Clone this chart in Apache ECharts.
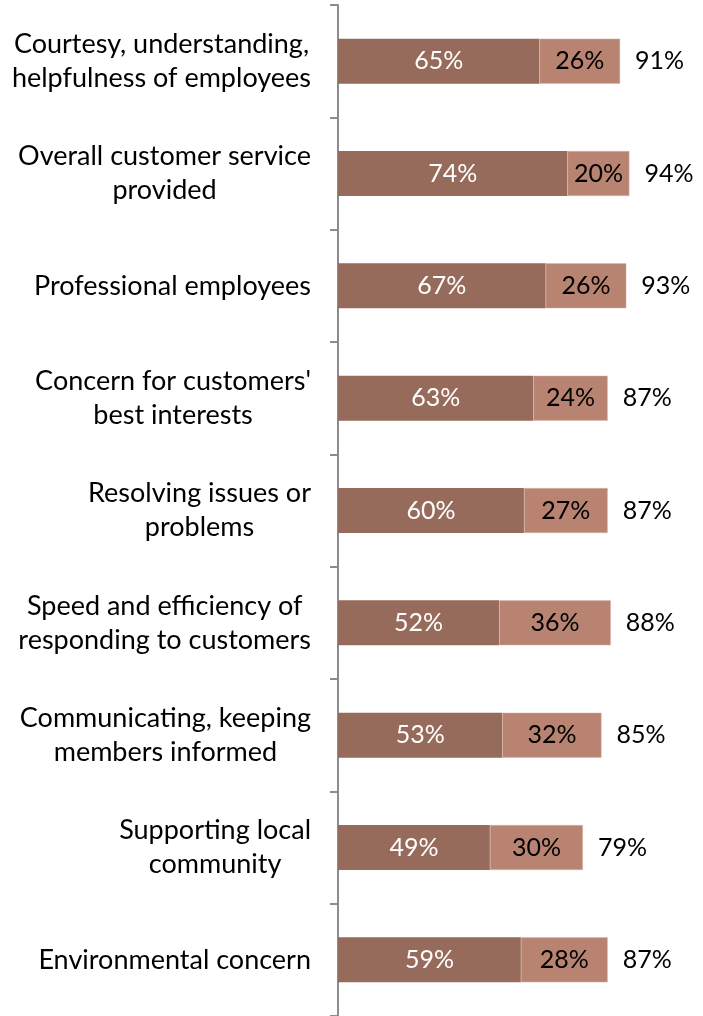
<!DOCTYPE html>
<html>
<head>
<meta charset="utf-8">
<script src="https://cdn.jsdelivr.net/npm/echarts@6/dist/echarts.min.js"></script>
<style>
  html, body { margin: 0; padding: 0; background: #fff; }
  #chart { width: 703px; height: 1016px; }
</style>
</head>
<body>
<div id="chart"></div>
<script>
// Service attributes, top to bottom
const categories = [
  'Courtesy, understanding,\nhelpfulness of employees',
  'Overall customer service\nprovided',
  'Professional employees',
  "Concern for customers'\nbest interests",
  'Resolving issues or\nproblems',
  'Speed and efficiency of\nresponding to customers',
  'Communicating, keeping\nmembers informed',
  'Supporting local\ncommunity',
  'Environmental concern'
];
// Share of top rating (dark segment)
const topRating = [65, 74, 67, 63, 60, 52, 53, 49, 59];
// Share of second rating (light segment)
const secondRating = [26, 20, 26, 24, 27, 36, 32, 30, 28];
// Combined share shown after each bar
const totals = [91, 94, 93, 87, 87, 88, 85, 79, 87];

const FONT = 'Lato, "Open Sans", sans-serif';

const chart = echarts.init(document.getElementById('chart'), null, { renderer: 'canvas' });
chart.setOption({
  animation: false,
  backgroundColor: '#ffffff',
  grid: { left: 338, top: 5, width: 310, height: 1017, containLabel: false },
  xAxis: {
    type: 'value', min: 0, max: 100, show: false
  },
  yAxis: {
    type: 'category',
    data: categories,
    inverse: true,
    axisLine: { show: true, lineStyle: { color: '#8c8c8c', width: 2 } },
    axisTick: { show: true, inside: false, length: 8, alignWithLabel: false, lineStyle: { color: '#8c8c8c', width: 2 } },
    axisLabel: {
      margin: 27, align: 'right',
      // each line centred inside a right-aligned block
      formatter: v => v.split('\n').map(s => '{c|' + s + '}').join('\n'),
      rich: {
        c: { align: 'center', color: '#000', fontFamily: FONT, fontSize: 27, lineHeight: 34 }
      }
    },
    splitLine: { show: false }
  },
  series: [
    {
      name: 'Top', type: 'bar', stack: 'all', barWidth: 45,
      data: topRating,
      itemStyle: { color: '#976b5b' },
      label: { show: true, position: 'inside', color: '#ffffff', fontFamily: FONT, fontSize: 25, formatter: '{c}%' }
    },
    {
      name: 'Second', type: 'bar', stack: 'all', barWidth: 45,
      data: secondRating,
      itemStyle: { color: '#b98372', borderColor: '#d8b8ad', borderWidth: 0.5 },
      label: { show: true, position: 'inside', color: '#000000', fontFamily: FONT, fontSize: 25, formatter: '{c}%' }
    },
    {
      name: 'Total', type: 'bar', stack: 'all', barWidth: 45,
      data: totals.map(t => ({ value: 0, total: t })),
      itemStyle: { color: 'rgba(0,0,0,0)' },
      label: {
        show: true, position: 'right', distance: 15, color: '#000000', fontFamily: FONT, fontSize: 25,
        formatter: p => totals[p.dataIndex] + '%'
      }
    }
  ]
});
</script>
</body>
</html>
